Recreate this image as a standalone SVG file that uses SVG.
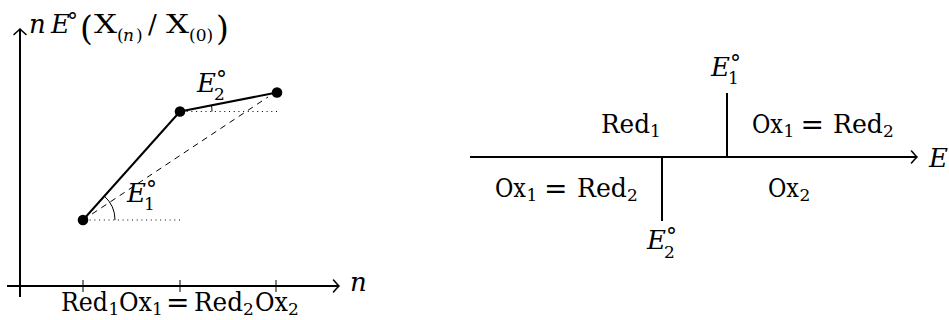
<svg xmlns="http://www.w3.org/2000/svg" width="949" height="320" viewBox="0 0 949 320">
<defs>
<marker id="to" markerUnits="userSpaceOnUse" markerWidth="16" markerHeight="16" refX="0" refY="0" viewBox="-10 -8 12 16" orient="auto" overflow="visible">
<path d="M -5.5 -6 Q -1.2 -1.2 0 0 Q -1.2 1.2 -5.5 6" fill="none" stroke="#000" stroke-width="1.6" stroke-linecap="round"/>
</marker>
</defs>
<style>
text{font-family:"DejaVu Serif","Liberation Serif",serif;fill:#000}
.t{font-size:26px}
.s{font-size:17px}
.o{font-size:22px}
.q{font-size:28px}
.i{font-style:italic}
.ax{stroke:#000;stroke-width:2;fill:none}
.thin{stroke:#000;stroke-width:1;fill:none}
.dot{stroke:#000;stroke-width:1;stroke-dasharray:1 3.7;fill:none}
.dash{stroke:#000;stroke-width:1;stroke-dasharray:6 5;fill:none}
</style>

<g id="left-axes">
<line class="ax" x1="20" y1="297" x2="20" y2="29" marker-end="url(#to)"/>
<line class="ax" x1="7" y1="286" x2="339" y2="286" marker-end="url(#to)"/>
<line class="thin" x1="83" y1="280" x2="83" y2="292"/>
<line class="thin" x1="180" y1="280" x2="180" y2="292"/>
<line class="thin" x1="276" y1="280" x2="276" y2="292"/>
</g>

<g id="left-connectors">
<line class="dot" x1="85" y1="220" x2="181" y2="220"/>
<line class="dot" x1="182" y1="111.5" x2="278" y2="111.5"/>
<line class="dash" x1="83" y1="220" x2="268" y2="97"/>
<line class="ax" x1="83" y1="220" x2="180" y2="111.5"/>
<line class="ax" x1="180" y1="111.5" x2="277" y2="92.5"/>
<path class="thin" d="M 115 220 A 32 32 0 0 0 104.3 196.1"/>
<path class="thin" d="M 212 111.5 A 32 32 0 0 0 211.4 105.3"/>
</g>

<g id="points">
<circle cx="83" cy="220" r="5.3" fill="#000"/>
<circle cx="180" cy="111.5" r="5.3" fill="#000"/>
<circle cx="277" cy="92.5" r="5.3" fill="#000"/>
</g>

<g id="left-labels">
<text class="t"><tspan class="i" x="29" y="33">n</tspan><tspan class="i" x="51" y="33">E</tspan><tspan class="o" x="67" y="29">°</tspan><tspan x="80" y="40" font-size="33">(</tspan><tspan x="94" y="33" textLength="23" lengthAdjust="spacingAndGlyphs">X</tspan><tspan class="s" x="117" y="41">(</tspan><tspan class="s i" x="123" y="41">n</tspan><tspan class="s" x="136" y="41">)</tspan><tspan x="148" y="33">/</tspan><tspan x="166" y="33" textLength="23" lengthAdjust="spacingAndGlyphs">X</tspan><tspan class="s" x="189" y="41">(0)</tspan><tspan x="216" y="40" font-size="33">)</tspan></text>
<text class="t i" x="350" y="291">n</text>
<text class="t"><tspan x="61" y="311" textLength="47" lengthAdjust="spacingAndGlyphs">Red</tspan><tspan class="s" x="108.5" y="315">1</tspan><tspan x="119" y="311" textLength="33" lengthAdjust="spacingAndGlyphs">Ox</tspan><tspan class="s" x="152" y="315">1</tspan><tspan class="q" x="166" y="311.5">=</tspan><tspan x="194" y="311" textLength="49" lengthAdjust="spacingAndGlyphs">Red</tspan><tspan class="s" x="243" y="315">2</tspan><tspan x="255" y="311" textLength="33" lengthAdjust="spacingAndGlyphs">Ox</tspan><tspan class="s" x="288" y="315">2</tspan></text>
<text class="t"><tspan class="i" x="127" y="202">E</tspan><tspan class="o" x="146" y="197">°</tspan><tspan class="s" x="144" y="210">1</tspan></text>
<text class="t"><tspan class="i" x="197" y="92">E</tspan><tspan class="o" x="216" y="87">°</tspan><tspan class="s" x="214" y="100">2</tspan></text>
</g>

<g id="right-axes">
<line class="ax" x1="470" y1="157" x2="917" y2="157" marker-end="url(#to)"/>
<line class="ax" x1="727" y1="93" x2="727" y2="157"/>
<line class="ax" x1="662" y1="157" x2="662" y2="221"/>
</g>

<g id="right-labels">
<text class="t i" x="929" y="167">E</text>
<text class="t"><tspan x="601" y="133" textLength="49" lengthAdjust="spacingAndGlyphs">Red</tspan><tspan class="s" x="650" y="137">1</tspan></text>
<text class="t"><tspan x="752" y="133" textLength="31" lengthAdjust="spacingAndGlyphs">Ox</tspan><tspan class="s" x="783.5" y="137">1</tspan><tspan class="q" x="800.5" y="133.5">=</tspan><tspan x="833" y="133" textLength="50" lengthAdjust="spacingAndGlyphs">Red</tspan><tspan class="s" x="883" y="137">2</tspan></text>
<text class="t"><tspan x="495" y="197" textLength="31" lengthAdjust="spacingAndGlyphs">Ox</tspan><tspan class="s" x="526.5" y="201">1</tspan><tspan class="q" x="544" y="197.5">=</tspan><tspan x="577" y="197" textLength="50" lengthAdjust="spacingAndGlyphs">Red</tspan><tspan class="s" x="627" y="201">2</tspan></text>
<text class="t"><tspan x="768" y="197" textLength="31" lengthAdjust="spacingAndGlyphs">Ox</tspan><tspan class="s" x="799.5" y="201">2</tspan></text>
<text class="t"><tspan class="i" x="711" y="76">E</tspan><tspan class="o" x="730" y="71">°</tspan><tspan class="s" x="728" y="84">1</tspan></text>
<text class="t"><tspan class="i" x="647" y="249">E</tspan><tspan class="o" x="666" y="244">°</tspan><tspan class="s" x="664" y="258">2</tspan></text>
</g>
</svg>
